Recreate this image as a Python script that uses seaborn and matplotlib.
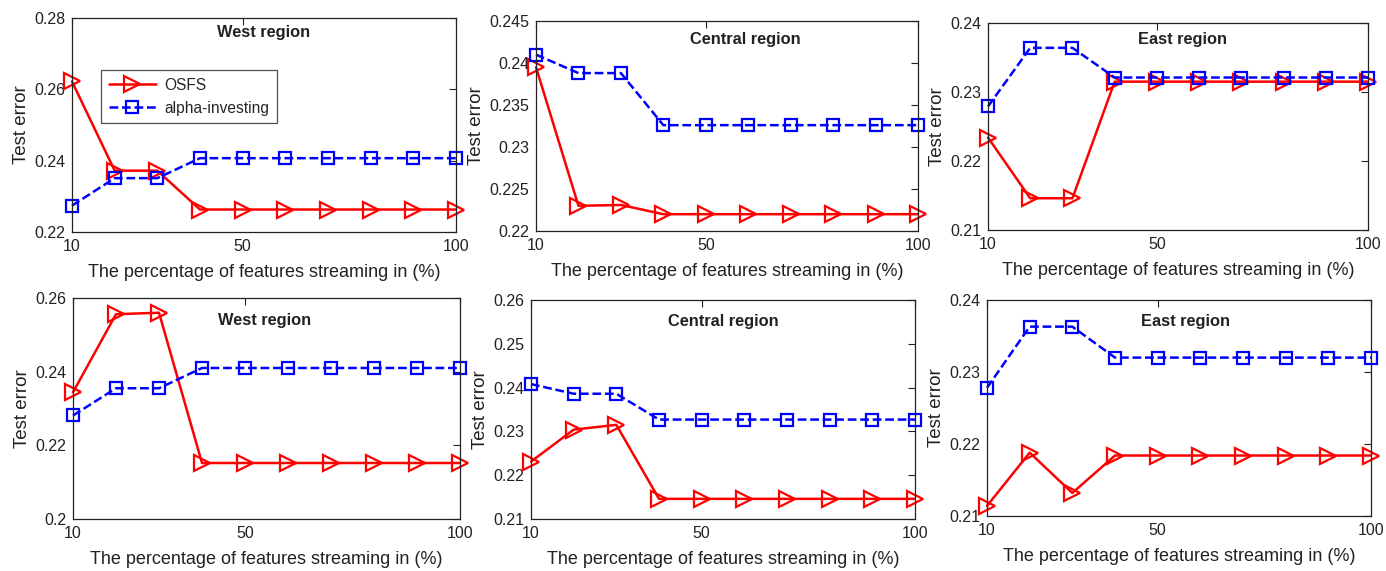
import numpy as np
import pandas as pd
import matplotlib
matplotlib.use('Agg')
import matplotlib.pyplot as plt
from matplotlib.ticker import FuncFormatter
import seaborn as sns

# percentage of features streaming in
pct = [10, 20, 30, 40, 50, 60, 70, 80, 90, 100]

titles = ['West region', 'Central region', 'East region',
          'West region', 'Central region', 'East region']

# test error, OSFS
osfs_tw = [0.2622, 0.2372, 0.2372, 0.2263, 0.2263, 0.2263, 0.2263, 0.2263, 0.2263, 0.2263]
osfs_tc = [0.2395, 0.2230, 0.2231, 0.2220, 0.2220, 0.2220, 0.2220, 0.2220, 0.2220, 0.2220]
osfs_te = [0.2234, 0.2146, 0.2146, 0.2315, 0.2315, 0.2315, 0.2315, 0.2315, 0.2315, 0.2315]
osfs_bw = [0.2344, 0.2556, 0.2560, 0.2152, 0.2152, 0.2152, 0.2152, 0.2152, 0.2152, 0.2152]
osfs_bc = [0.2231, 0.2304, 0.2315, 0.2146, 0.2146, 0.2146, 0.2146, 0.2146, 0.2146, 0.2146]
osfs_be = [0.2114, 0.2188, 0.2132, 0.2184, 0.2184, 0.2184, 0.2184, 0.2184, 0.2184, 0.2184]

# test error, alpha-investing
alpha_tw = [0.2274, 0.2351, 0.2351, 0.2407, 0.2407, 0.2407, 0.2407, 0.2407, 0.2407, 0.2407]
alpha_tc = [0.2410, 0.2388, 0.2388, 0.2326, 0.2326, 0.2326, 0.2326, 0.2326, 0.2326, 0.2326]
alpha_te = [0.2279, 0.2364, 0.2364, 0.2321, 0.2321, 0.2321, 0.2321, 0.2321, 0.2321, 0.2321]
alpha_bw = [0.2281, 0.2355, 0.2355, 0.2410, 0.2410, 0.2410, 0.2410, 0.2410, 0.2410, 0.2410]
alpha_bc = [0.2408, 0.2386, 0.2386, 0.2327, 0.2327, 0.2327, 0.2327, 0.2327, 0.2327, 0.2327]
alpha_be = [0.2278, 0.2363, 0.2363, 0.2320, 0.2320, 0.2320, 0.2320, 0.2320, 0.2320, 0.2320]

osfs = [osfs_tw, osfs_tc, osfs_te, osfs_bw, osfs_bc, osfs_be]
alpha = [alpha_tw, alpha_tc, alpha_te, alpha_bw, alpha_bc, alpha_be]

ylims = [(0.22, 0.28), (0.22, 0.245), (0.21, 0.24), (0.20, 0.26), (0.21, 0.26), (0.21, 0.24)]
ysteps = [0.02, 0.005, 0.01, 0.02, 0.01, 0.01]

sns.set_theme(style='white')
plt.rcParams['font.family'] = ['Liberation Sans', 'DejaVu Sans']
plt.rcParams['xtick.direction'] = 'in'
plt.rcParams['ytick.direction'] = 'in'

W, H = 1386, 571
fig = plt.figure(figsize=(W / 100, H / 100), dpi=100)

# axes boxes in pixels: left, right, top, bottom
boxes = [(72, 456, 18, 232), (536, 918, 21, 231), (988, 1368, 23, 230),
         (73, 460, 298, 519), (531, 915, 300, 519), (987, 1371, 300, 516)]
title_pos = [(0.50, 0.93), (0.547, 0.91), (0.513, 0.92),
             (0.494, 0.90), (0.50, 0.90), (0.518, 0.90)]

for i in range(6):
    l, r, t, b = boxes[i]
    ax = fig.add_axes([l / W, (H - b) / H, (r - l) / W, (b - t) / H])
    df = pd.DataFrame({'pct': pct, 'OSFS': osfs[i], 'alpha': alpha[i]})

    sns.lineplot(data=df, x='pct', y='OSFS', ax=ax, color='#ff0000', lw=1.8,
                 marker='>', ms=12, markerfacecolor='none', markeredgecolor='#ff0000',
                 markeredgewidth=1.6, label='OSFS', errorbar=None, clip_on=False)
    sns.lineplot(data=df, x='pct', y='alpha', ax=ax, color='#0000ff', lw=1.8,
                 linestyle=(0, (3.5, 1.5)), marker='s', ms=8.5, markerfacecolor='none',
                 markeredgecolor='#0000ff', markeredgewidth=1.6, label='alpha-investing',
                 errorbar=None, clip_on=False)

    ax.set_xlim(10, 100)
    ax.set_xticks([10, 50, 100])
    ax.set_ylim(*ylims[i])
    ax.set_yticks(np.arange(ylims[i][0], ylims[i][1] + 1e-9, ysteps[i]))
    ax.yaxis.set_major_formatter(FuncFormatter(lambda v, p: '%g' % round(v, 4)))
    ax.tick_params(top=True, right=True, length=5, width=0.8, labelsize=11.5,
                   colors='#222222', pad=5)
    for s in ax.spines.values():
        s.set_color('#222222')
        s.set_linewidth(0.9)
    ax.set_xlabel('The percentage of features streaming in (%)', fontsize=13,
                  labelpad=7, color='#222222')
    ax.set_ylabel('Test error', fontsize=13.5, labelpad=3, color='#222222')
    ax.text(title_pos[i][0], title_pos[i][1], titles[i], transform=ax.transAxes,
            ha='center', va='center', fontsize=11.8, fontweight='bold', color='#222222')

    if i == 0:
        leg = ax.legend(loc='upper left', bbox_to_anchor=(0.076, 0.757), fontsize=11.2,
                        frameon=True, fancybox=False, handlelength=3.0,
                        handletextpad=0.55, borderpad=0.5, labelspacing=0.5,
                        borderaxespad=0)
        leg.get_frame().set_edgecolor('#222222')
        leg.get_frame().set_linewidth(0.9)
    else:
        ax.get_legend().remove()

fig.savefig('out.png', dpi=100)
